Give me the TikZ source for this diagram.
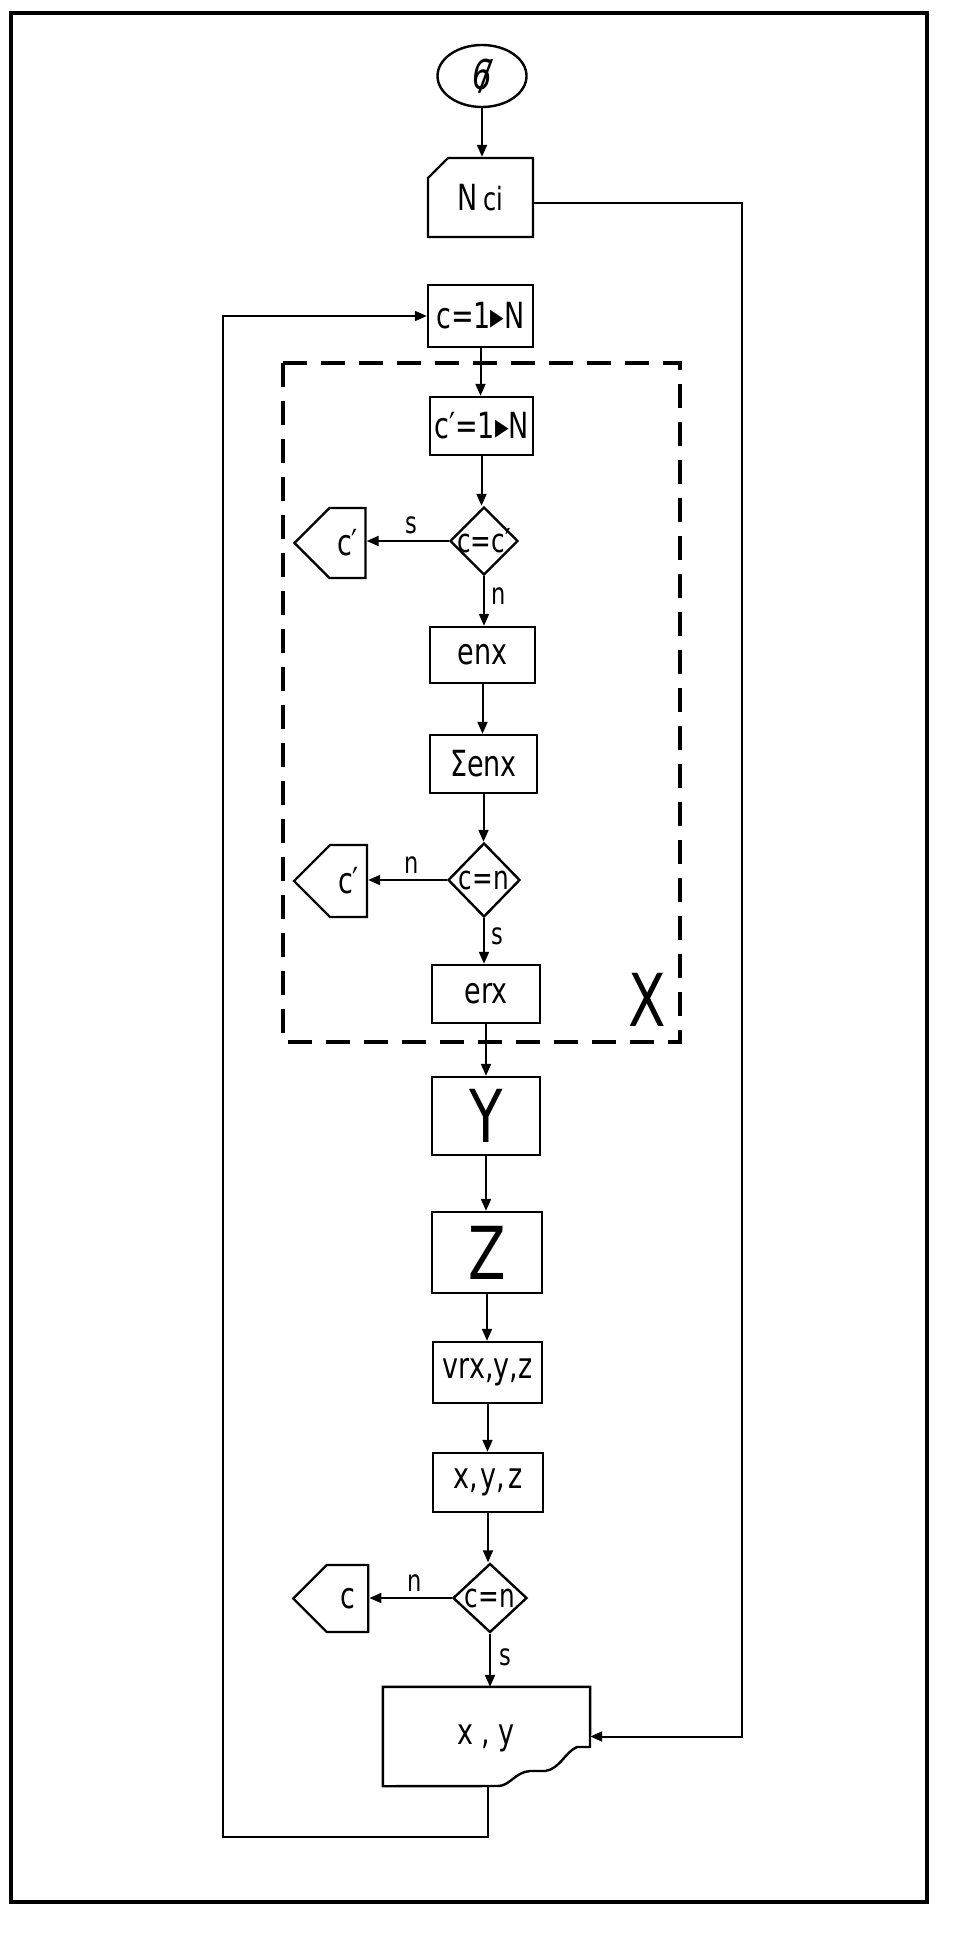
\documentclass[tikz,border=0pt]{standalone}
\usepackage{fontspec}
\setmainfont{DejaVu Sans}[FakeStretch=0.75]
\usetikzlibrary{shapes.geometric,shapes.symbols,shapes.misc,arrows.meta}
\begin{document}
\begin{tikzpicture}[x=1pt,y=-1pt,
  base/.style={line width=2.4pt, inner sep=0pt, font=\fontsize{36}{40}\selectfont},
  proc/.style={base, draw, rectangle},
  card/.style={base, draw, chamfered rectangle, chamfered rectangle corners=north west,
     chamfered rectangle xsep=10pt, chamfered rectangle ysep=10pt},
  term/.style={base, draw, ellipse},
  dec/.style={draw, line width=2.4pt, diamond, inner sep=0pt},
  dtext/.style={inner sep=0pt, font=\fontsize{33}{36}\selectfont},
  conn/.style={base, draw, signal, signal to=west, signal from=nowhere},
  lbl/.style={inner sep=0pt, font=\fontsize{30}{34}\selectfont},
  big/.style={inner sep=0pt, font=\fontsize{73}{80}\selectfont},
  arr/.style={line width=2pt, -{Triangle[length=12pt,width=10pt]}},
  ln/.style={line width=2pt},
  frame/.style={line width=4pt},
  group/.style={line width=4pt, dash pattern=on 24pt off 14pt},
]
\useasboundingbox (0,0) rectangle (966,1942);
% outer frame
\draw[frame] (11,13) rectangle (927,1902);
% dashed group X
\draw[group] (283,363) rectangle (680,1042);
\node[big] (lx) at (647,1000) {X};

% nodes
\node[term, minimum width=89pt, minimum height=62pt] (start) at (482,76) {{\fontsize{41}{44}\selectfont\itshape 6\llap{/\kern1pt}}};
\node[card, minimum width=105pt, minimum height=79pt] (nci) at (480.5,197.5) {N\,{\fontsize{32}{36}\selectfont ci}};
\node[proc, minimum width=105pt, minimum height=62pt] (c1) at (480.5,316) {c=1▸N};
\node[proc, minimum width=103pt, minimum height=58pt] (c2) at (481.5,426) {c′=1▸N};
\node[dec, minimum width=68pt, minimum height=68pt] (d1) at (484,541) {};
\node[dtext] (d1t) at (d1) {c=c′};
\node[conn, minimum width=71pt, minimum height=70pt] (k1) at (347.5,543) {c′};
\node[proc, minimum width=105pt, minimum height=56pt] (enx) at (482.5,655) {enx};
\node[proc, minimum width=107pt, minimum height=58pt] (senx) at (483.5,764) {Σenx};
\node[dec, minimum width=72pt, minimum height=74pt] (d2) at (484,880) {};
\node[dtext] (d2t) at (d2) {c=n};
\node[conn, minimum width=73pt, minimum height=72pt] (k2) at (348.5,881) {c′};
\node[proc, minimum width=108pt, minimum height=58pt] (erx) at (486,994) {erx};
\node[proc, minimum width=108pt, minimum height=78pt, font=\fontsize{73}{80}\selectfont] (ny) at (486,1116) {Y};
\node[proc, minimum width=110pt, minimum height=81pt, font=\fontsize{73}{80}\selectfont] (nz) at (487,1252.5) {Z};
\node[proc, minimum width=109pt, minimum height=61pt] (vr) at (487.5,1372.5) {vrx,y,z};
\node[proc, minimum width=110pt, minimum height=59pt] (xyz) at (488,1482.5) {x,\kern3pt y,\kern3pt z};
\node[dec, minimum width=74pt, minimum height=69pt] (d3) at (490,1598) {};
\node[dtext] (d3t) at (d3) {c=n};
\node[conn, minimum width=75pt, minimum height=67pt] (k3) at (347.5,1598.5) {c};
% document
\node[inner sep=0pt, minimum width=207pt, minimum height=99pt] (doc) at (486.5,1736.5) {};
\node[base] (doct) at (486,1738) {x , y};
\draw[line width=2.4pt] (doc.north west) -- (doc.north east) -- (590,1747) -- (577,1747)
  .. controls (565,1752) and (560,1769) .. (545,1771) -- (530,1771)
  .. controls (515,1772) and (510,1786) .. (498,1786) -- (doc.south west) -- cycle;

% connectors
\draw[arr] (start.south) -- (start.south |- nci.north);
\draw[arr] (c1.south) -- (c1.south |- c2.north);
\draw[arr] (c2.south) -- (c2.south |- d1.north);
\draw[arr] (d1.west) -- (d1.west -| k1.east) node[lbl, pos=0.45, above=6pt] (s1) {s};
\draw[arr] (d1.south) -- (d1.south |- enx.north) node[lbl, pos=0.4, right=6pt] (n1) {n};
\draw[arr] (enx.south) -- (enx.south |- senx.north);
\draw[arr] (senx.south) -- (senx.south |- d2.north);
\draw[arr] (d2.west) -- (d2.west -| k2.east) node[lbl, pos=0.45, above=6pt] (n2) {n};
\draw[arr] (d2.south) -- (d2.south |- erx.north) node[lbl, pos=0.4, right=6pt] (s2) {s};
\draw[arr] (erx.south) -- (erx.south |- ny.north);
\draw[arr] (ny.south) -- (ny.south |- nz.north);
\draw[arr] (nz.south) -- (nz.south |- vr.north);
\draw[arr] (vr.south) -- (vr.south |- xyz.north);
\draw[arr] (xyz.south) -- (xyz.south |- d3.north);
\draw[arr] (d3.west) -- (d3.west -| k3.east) node[lbl, pos=0.45, above=6pt] (n3) {n};
\draw[arr] (d3.south) -- (d3.south |- doc.north) node[lbl, pos=0.45, right=8pt] (s3) {s};
% feedback from input card to document
\coordinate (fb) at (742,203);
\draw[arr] (nci.east |- fb) -- (fb) |- (doc.east);
% outer loop
\coordinate (lp1) at (488,1837);
\coordinate (lp2) at (223,1837);
\draw[arr] (doc.south -| lp1) -- (lp1) -- (lp2) |- (c1.west);
\end{tikzpicture}
\end{document}
